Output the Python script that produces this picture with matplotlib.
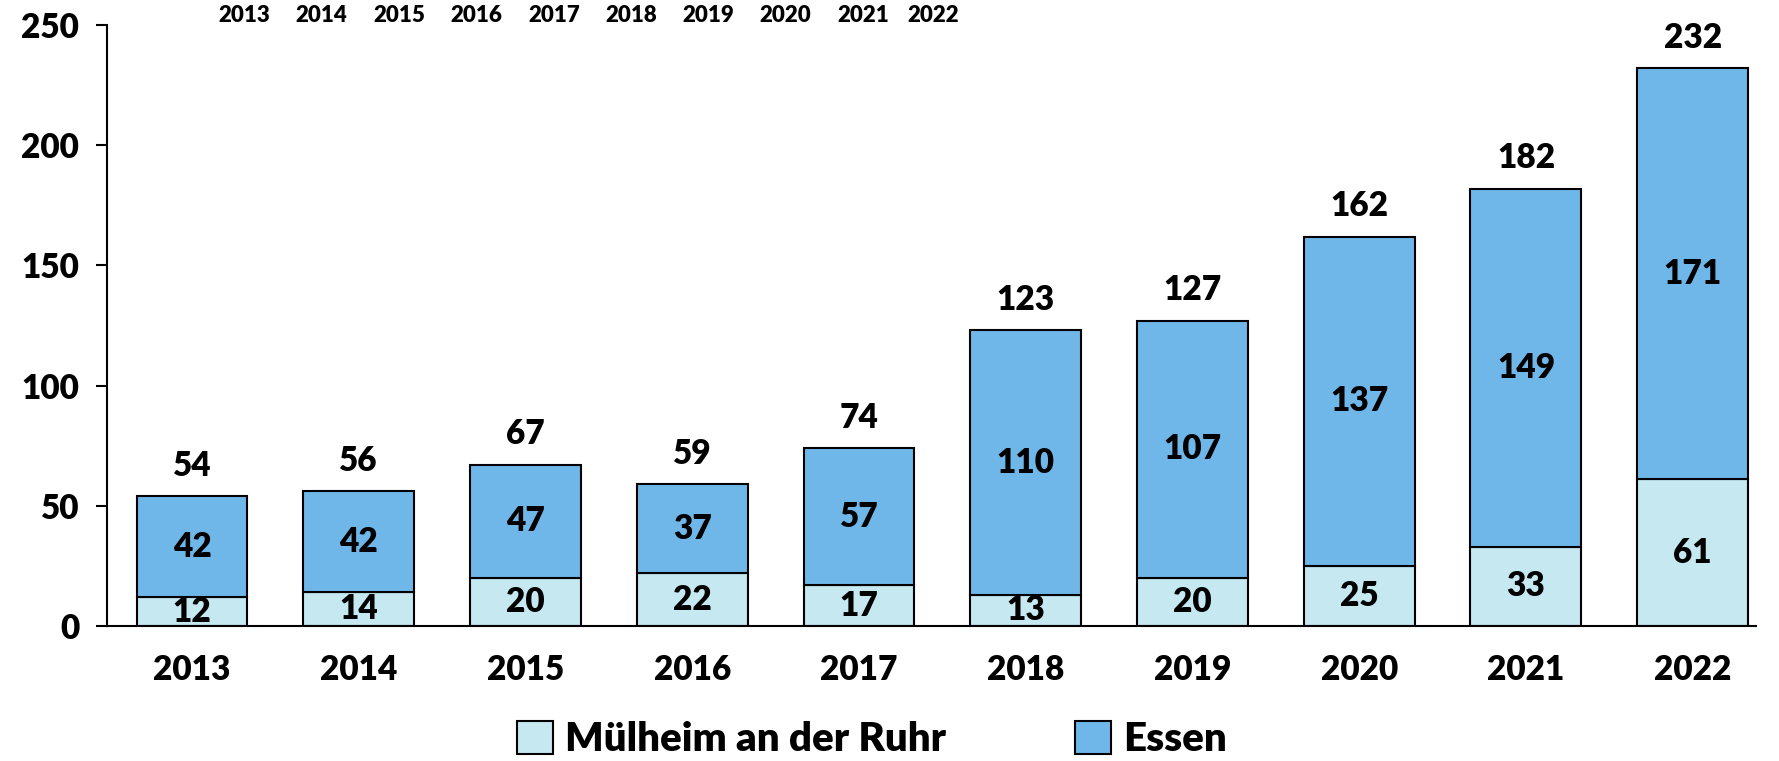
import matplotlib
matplotlib.use("Agg")
import matplotlib.pyplot as plt
from matplotlib.patches import Patch
import numpy as np

years = ["2013", "2014", "2015", "2016", "2017", "2018", "2019", "2020", "2021", "2022"]
muelheim = [12, 14, 20, 22, 17, 13, 20, 25, 33, 61]
essen = [42, 42, 47, 37, 57, 110, 107, 137, 149, 171]
totals = [54, 56, 67, 59, 74, 123, 127, 162, 182, 232]
yticks = [0, 50, 100, 150, 200, 250]

plt.rcParams['font.family'] = ['Lato', 'DejaVu Sans']
W = "heavy"
plt.rcParams['font.weight'] = W

c_mh = "#C5E8F1"
c_es = "#6FB7E9"

fig = plt.figure(figsize=(17.79, 7.61), dpi=100)
ax = fig.add_axes([0.0601, 0.1774, 0.927, 0.7896])

x = np.arange(len(years))
w = 0.665
ax.bar(x, muelheim, w, color=c_mh, edgecolor="black", linewidth=1.5)
ax.bar(x, essen, w, bottom=muelheim, color=c_es, edgecolor="black", linewidth=1.5)

fs = 24
for i in range(len(years)):
    ax.text(x[i], muelheim[i] / 2, str(muelheim[i]), ha="center", va="center",
            fontsize=fs, fontweight=W)
    ax.text(x[i], muelheim[i] + essen[i] / 2, str(essen[i]), ha="center", va="center",
            fontsize=fs, fontweight=W)
    ax.annotate(str(totals[i]), (x[i], totals[i]), xytext=(0, 22), textcoords="offset points",
                ha="center", va="center", fontsize=fs, fontweight=W)

ax.set_xlim(-0.51, 9.38)
ax.set_ylim(0, 250)
ax.set_yticks(yticks)
ax.set_yticklabels([str(t) for t in yticks], fontsize=fs, fontweight=W)
ax.set_xticks(x)
ax.set_xticklabels(years, fontsize=fs, fontweight=W)
ax.tick_params(axis="x", length=0, pad=20)
ax.tick_params(axis="y", length=8, width=1.5, direction="out", pad=12)
for s in ["top", "right"]:
    ax.spines[s].set_visible(False)
for s in ["left", "bottom"]:
    ax.spines[s].set_linewidth(1.5)

# small year labels row at the top
top_x = [244, 321, 399, 476, 554, 631, 708, 785, 863, 933]
for xp, yr in zip(top_x, years):
    fig.text(xp / 1779, 1 - 15 / 761, yr, ha="center", va="center", fontsize=16, fontweight=W)

handles = [Patch(facecolor=c_mh, edgecolor="black", linewidth=1.5, label="Mülheim an der Ruhr"),
           Patch(facecolor=c_es, edgecolor="black", linewidth=1.5, label="Essen")]
fig.legend(handles=handles, loc="center", bbox_to_anchor=(0.49, 0.028), ncol=2, frameon=False,
           prop={"size": 29, "weight": W}, handlelength=0.9, handleheight=0.9,
           handletextpad=0.3, columnspacing=3.2, borderpad=0.2)

fig.savefig("out.png", dpi=100)
